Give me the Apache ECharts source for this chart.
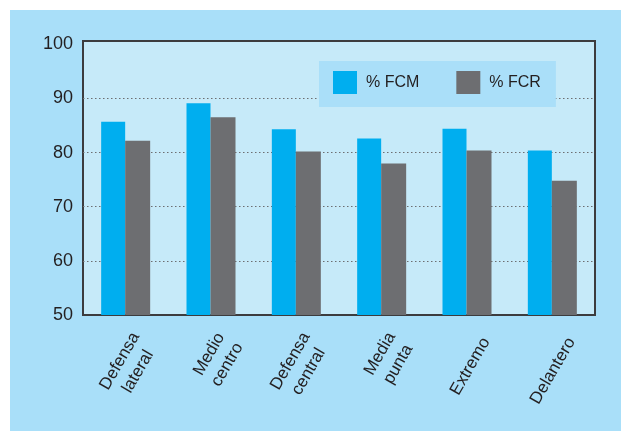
<!DOCTYPE html>
<html><head><meta charset="utf-8">
<script src="https://cdn.jsdelivr.net/npm/echarts@6/dist/echarts.min.js"></script>
<style>html,body{margin:0;padding:0;background:#fff}#c{width:621px;height:431px}</style>
</head><body><div id="c"></div>
<script>
const categories = ["Defensa\nlateral", "Medio\ncentro", "Defensa\ncentral", "Media\npunta", "Extremo", "Delantero"];
const fcm = [85.7, 89.1, 84.3, 82.6, 84.4, 80.4];
const fcr = [82.2, 86.5, 80.2, 78.0, 80.4, 74.8];
const seriesNames = ["% FCM", "% FCR"];
const yTicks = [50, 60, 70, 80, 90, 100];

const chart = echarts.init(document.getElementById('c'), null, {renderer: 'canvas'});
chart.setOption({
  animation: false,
  backgroundColor: '#ffffff',
  graphic: [{type: 'rect', z: -10, shape: {x: 10, y: 10, width: 611, height: 421}, style: {fill: '#a9dff9'}}],
  grid: {left: 83, right: 26, top: 41, bottom: 116, show: true, backgroundColor: '#c6eaf9', borderColor: '#3c3c3e', borderWidth: 2},
  legend: {
    data: seriesNames,
    left: 319, top: 61,
    padding: [10, 15, 13, 14],
    backgroundColor: '#aadff9',
    itemWidth: 24, itemHeight: 23,
    itemGap: 37,
    icon: 'rect',
    textStyle: {fontFamily: 'Liberation Sans', fontSize: 16, color: '#231f20', padding: [0, 0, 0, 4]}
  },
  xAxis: {
    type: 'category', data: categories,
    axisLine: {show: false}, axisTick: {show: false},
    axisLabel: {
      rotate: 60, interval: 0, margin: 13, align: 'right', verticalAlign: 'middle',
      padding: [44, 0, 0, 0],
      formatter: v => v.split('\n').map(s => '{c|' + s + '}').join('\n'),
      rich: {c: {align: 'center', fontFamily: 'Liberation Sans', fontSize: 17, color: '#231f20', lineHeight: 21}}
    }
  },
  yAxis: {
    type: 'value', min: 50, max: 100.6, interval: 10,
    axisLine: {show: false}, axisTick: {show: false},
    axisLabel: {margin: 10, fontFamily: 'Liberation Sans', fontSize: 18, color: '#231f20', formatter: v => yTicks.includes(v) ? String(v) : ''},
    splitLine: {show: true, lineStyle: {type: [1.5, 2.5], width: 1, color: ['rgba(0,0,0,0)', '#6d6e71', '#6d6e71', '#6d6e71', '#6d6e71', 'rgba(0,0,0,0)', 'rgba(0,0,0,0)']}}
  },
  series: [
    {name: seriesNames[0], type: 'bar', data: fcm, barWidth: 24, barGap: '0%', itemStyle: {color: '#00aeef'}},
    {name: seriesNames[1], type: 'bar', data: fcr, barWidth: 25, barGap: '0%', itemStyle: {color: '#6d6e71'}}
  ]
});
</script></body></html>
